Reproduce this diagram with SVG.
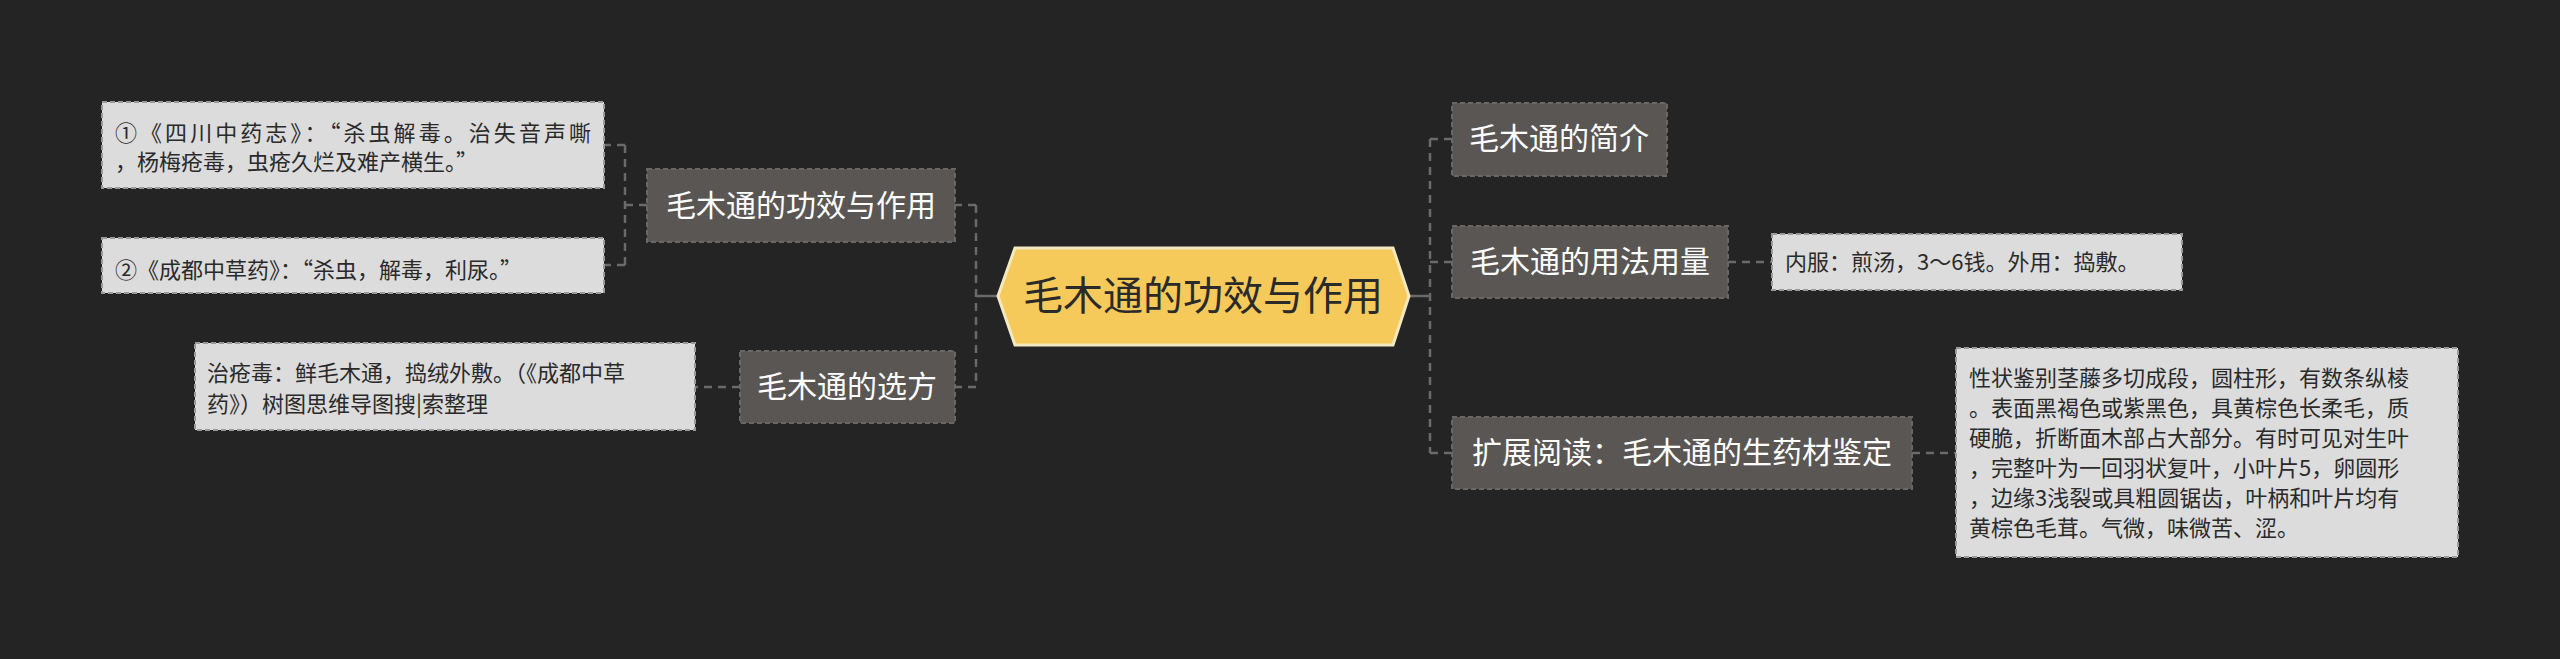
<svg xmlns="http://www.w3.org/2000/svg" width="2560" height="659" viewBox="0 0 2560 659">
<style>
text{font-family:"Noto Sans CJK SC","Noto Sans",sans-serif}
.n rect{fill:#5a5654;stroke:#6a6664;stroke-width:2;stroke-dasharray:5,3}
.n text{fill:#ffffff;font-size:30px;text-anchor:middle}
.l rect{fill:#dcdcdc;stroke:#9a9a9a;stroke-width:2;stroke-dasharray:5,3}
.l text{fill:#2a2a2a;font-size:22px}
.c path{fill:none;stroke:#6a6a6a;stroke-width:2.5;stroke-dasharray:8,6}
</style>
<rect width="2560" height="659" fill="#242424"/>
<g class="c">
<path d="M998 296H976M1409 296H1430" style="stroke-dasharray:none"/>
<path d="M976 205V387M976 205H955M976 387H955"/>
<path d="M647 205H625M625 145V265M625 145H604M625 265H604"/>
<path d="M740 387H695"/>
<path d="M1430 139V453M1430 139H1452M1430 262H1452M1430 453H1452"/>
<path d="M1728 262H1772M1912 453H1956"/>
</g>
<g id="root">
<polygon points="998,296 1015,248 1393,248 1409,296 1393,345 1015,345" fill="#f5c95a" stroke="#f3e9c0" stroke-width="3"/>
<text x="1203" y="310" font-size="40" fill="#2a2a2a" text-anchor="middle">毛木通的功效与作用</text>
</g>
<g id="n1" class="n"><rect x="647" y="169" width="308" height="73"/><text x="801" y="216">毛木通的功效与作用</text></g>
<g id="n2" class="n"><rect x="740" y="351" width="215" height="72"/><text x="847" y="397">毛木通的选方</text></g>
<g id="n3" class="n"><rect x="1452" y="103" width="215" height="73"/><text x="1559" y="149">毛木通的简介</text></g>
<g id="n4" class="n"><rect x="1452" y="226" width="276" height="72"/><text x="1590" y="272">毛木通的用法用量</text></g>
<g id="n5" class="n"><rect x="1452" y="417" width="460" height="72"/><text x="1682" y="463">扩展阅读：毛木通的生药材鉴定</text></g>
<g id="l1" class="l"><rect x="102" y="102" width="502" height="86"/>
<text x="115" y="141" textLength="476">①《四川中药志》：“杀虫解毒。治失音声嘶</text>
<text x="115" y="170">，杨梅疮毒，虫疮久烂及难产横生。”</text></g>
<g id="l2" class="l"><rect x="102" y="238" width="502" height="55"/>
<text x="115" y="278">②《成都中草药》：“杀虫，解毒，利尿。”</text></g>
<g id="l3" class="l"><rect x="195" y="343" width="500" height="87"/>
<text x="207" y="381">治疮毒：鲜毛木通，捣绒外敷。（《成都中草</text>
<text x="207" y="412">药》）树图思维导图搜|索整理</text></g>
<g id="l4" class="l"><rect x="1772" y="234" width="410" height="56"/>
<text x="1785" y="270">内服：煎汤，3～6钱。外用：捣敷。</text></g>
<g id="l5" class="l"><rect x="1956" y="348" width="502" height="209"/>
<text x="1969" y="386">性状鉴别茎藤多切成段，圆柱形，有数条纵棱</text>
<text x="1969" y="416">。表面黑褐色或紫黑色，具黄棕色长柔毛，质</text>
<text x="1969" y="446">硬脆，折断面木部占大部分。有时可见对生叶</text>
<text x="1969" y="476">，完整叶为一回羽状复叶，小叶片5，卵圆形</text>
<text x="1969" y="506">，边缘3浅裂或具粗圆锯齿，叶柄和叶片均有</text>
<text x="1969" y="536">黄棕色毛茸。气微，味微苦、涩。</text></g>
</svg>
